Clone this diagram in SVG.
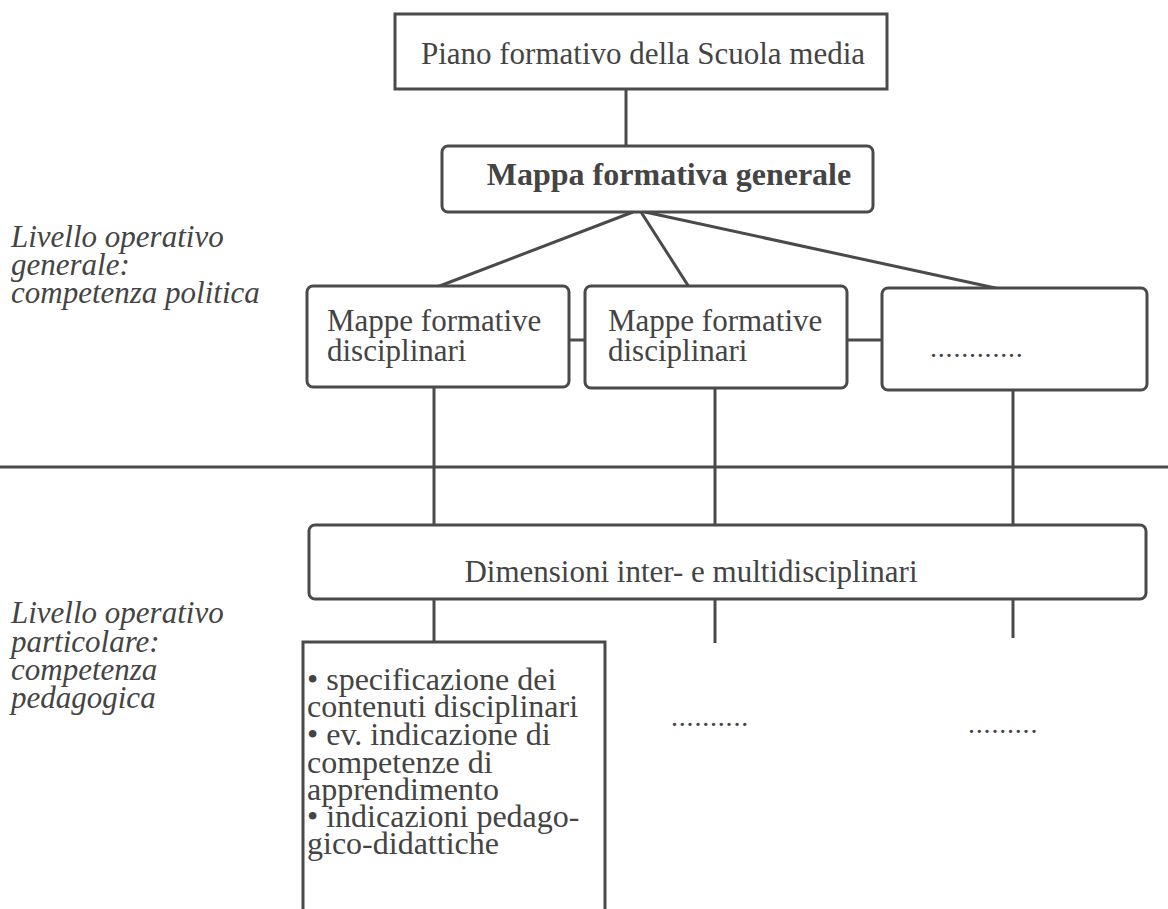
<svg xmlns="http://www.w3.org/2000/svg" width="1168" height="909" viewBox="0 0 1168 909">
<style>
.box{fill:#fff;stroke:#4a4a4a;stroke-width:3}
.ln{stroke:#4a4a4a;stroke-width:3;fill:none}
text{font-family:"Liberation Serif","Times New Roman",serif;fill:#444;font-size:31px}
.b{font-weight:bold;font-size:32px}
.i{font-style:italic;font-family:"Liberation Serif","DejaVu Serif",serif}
.c{text-anchor:middle}
.s{font-size:32px}
.d{font-size:28px;letter-spacing:0.8px}
</style>
<rect width="1168" height="909" fill="#fff"/>
<g id="connectors">
<line class="ln" x1="626" y1="89" x2="626" y2="146"/>
<line class="ln" x1="633" y1="212" x2="437" y2="287"/>
<line class="ln" x1="641" y1="212" x2="689" y2="287"/>
<line class="ln" x1="645" y1="212" x2="1000" y2="289"/>
<line class="ln" x1="569" y1="340" x2="585" y2="340"/>
<line class="ln" x1="847" y1="340" x2="882" y2="340"/>
<line class="ln" x1="434" y1="387" x2="434" y2="525"/>
<line class="ln" x1="715" y1="388" x2="715" y2="525"/>
<line class="ln" x1="1013" y1="390" x2="1013" y2="525"/>
<line class="ln" x1="434" y1="599" x2="434" y2="642"/>
<line class="ln" x1="715" y1="599" x2="715" y2="643"/>
<line class="ln" x1="1013" y1="599" x2="1013" y2="638"/>
</g>
<line class="ln" x1="0" y1="467" x2="1168" y2="467" stroke-width="2"/>
<g id="labels">
<text class="i" x="11" y="247">Livello operativo<tspan x="11" dy="28">generale:</tspan><tspan x="11" dy="28">competenza politica</tspan></text>
<text class="i" x="11" y="623">Livello operativo<tspan x="11" dy="29">particolare:</tspan><tspan x="11" dy="28">competenza</tspan><tspan x="11" dy="28">pedagogica</tspan></text>
</g>
<g id="piano">
<rect class="box" x="395" y="14" width="492" height="75"/>
<text class="c" x="643" y="64">Piano formativo della Scuola media</text>
</g>
<g id="mappa">
<rect class="box" x="442" y="146" width="431" height="66" rx="6"/>
<text class="c b" x="669" y="185">Mappa formativa generale</text>
</g>
<g id="disc1">
<rect class="box" x="307" y="286" width="262" height="101" rx="6"/>
<text x="327" y="331">Mappe formative<tspan x="327" dy="30">disciplinari</tspan></text>
</g>
<g id="disc2">
<rect class="box" x="585" y="286" width="262" height="102" rx="6"/>
<text x="608" y="331">Mappe formative<tspan x="608" dy="30">disciplinari</tspan></text>
</g>
<g id="disc3">
<rect class="box" x="882" y="288" width="265" height="102" rx="6"/>
<text class="d" x="930" y="357">............</text>
</g>
<g id="dimensioni">
<rect class="box" x="309" y="525" width="837" height="74" rx="6"/>
<text class="c" x="691" y="582">Dimensioni inter- e multidisciplinari</text>
</g>
<g id="spec">
<path class="ln" d="M303 915 V642 H605 V915"/>
<text class="s" x="307" y="690">• specificazione dei<tspan x="307" dy="27">contenuti disciplinari</tspan><tspan x="307" dy="28">• ev. indicazione di</tspan><tspan x="307" dy="28">competenze di</tspan><tspan x="307" dy="27">apprendimento</tspan><tspan x="307" dy="27">• indicazioni pedago-</tspan><tspan x="307" dy="27">gico-didattiche</tspan></text>
</g>
<g id="dots2">
<text class="d" x="671" y="726">..........</text>
</g>
<g id="dots3">
<text class="d" x="968" y="733">.........</text>
</g>
</svg>
